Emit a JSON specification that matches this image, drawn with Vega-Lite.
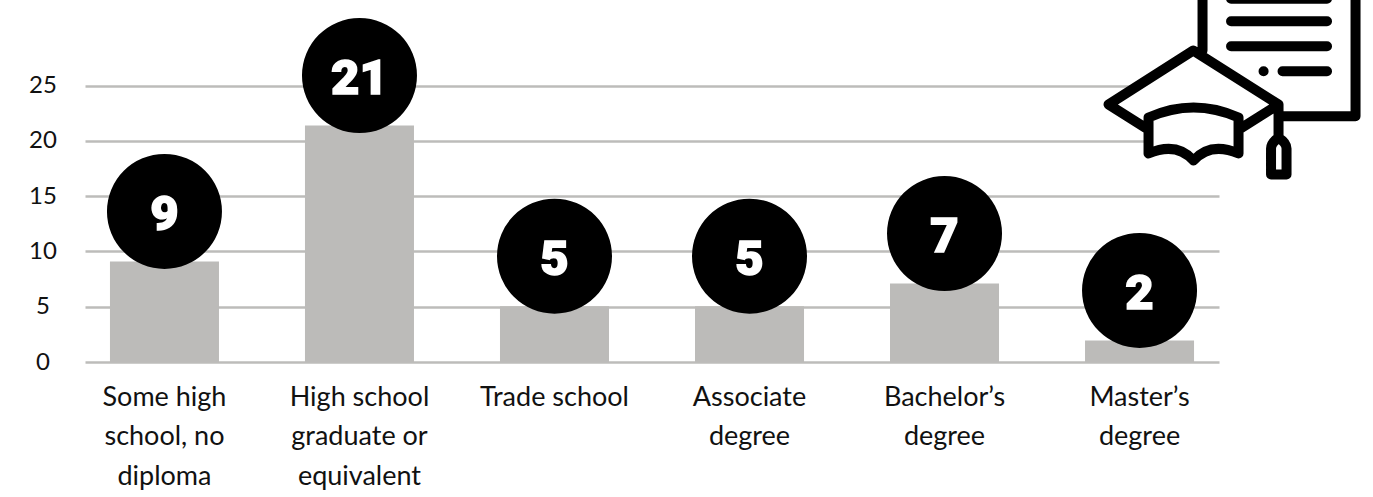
{
"$schema":"https://vega.github.io/schema/vega-lite/v6.json",
"autosize":{"type":"none"},
"padding":{"left":85,"top":0,"right":154,"bottom":135},
"width":1134,"height":362,
"background":"white",
"config":{"view":{"stroke":null}},
"datasets":{
"bars":[
{"category":"Some high|school, no|diploma","value":9.1,"label":"9"},
{"category":"High school|graduate or|equivalent","value":21.4,"label":"21"},
{"category":"Trade school","value":5.05,"label":"5"},
{"category":"Associate|degree","value":5.05,"label":"5"},
{"category":"Bachelor’s|degree","value":7.1,"label":"7"},
{"category":"Master’s|degree","value":1.95,"label":"2"}],
"icon":[{"category":"Master’s|degree","value":25}]
},
"encoding":{
"x":{"field":"category","type":"nominal","sort":null,"title":null,
"scale":{"paddingInner":0.441,"paddingOuter":0.128},
"axis":{"labelExpr":"split(datum.value,'|')","labelAngle":0,"labelAlign":"center","labelBaseline":"top","labelFont":"Lato","labelFontSize":27,"labelColor":"#111111","labelLineHeight":39.5,"labelPadding":22,"ticks":false,"domain":false,"grid":false,"labelLimit":0,"labelOverlap":false}},
"y":{"field":"value","type":"quantitative","title":null,
"scale":{"domain":[0,32.76],"nice":false},
"axis":{"values":[0,5,10,15,20,25],"grid":true,"gridColor":"#bdbcba","gridWidth":2.5,"domain":false,"ticks":false,"labelFont":"Lato","labelFontSize":24,"labelColor":"#111111","labelAlign":"center","labelBaseline":"middle","labelPadding":42.5}}
},
"layer":[
{"data":{"name":"bars"},"mark":{"type":"bar","color":"#bcbbb9","clip":false}},
{"data":{"name":"bars"},"mark":{"type":"point","shape":"circle","filled":true,"color":"#000000","opacity":1,"size":13225,"yOffset":-50}},
{"data":{"name":"bars"},"mark":{"type":"text","color":"#ffffff","stroke":"#ffffff","strokeWidth":1.5,"font":"Roboto","fontWeight":900,"fontSize":49,"baseline":"middle","yOffset":-46.5},"encoding":{"text":{"field":"label"}}},
{"data":{"name":"icon"},"mark":{"type":"point","filled":true,"fill":"#ffffff","fillOpacity":1,"opacity":1,"stroke":"#000000","strokeWidth":10,"strokeCap":"round","strokeJoin":"round","size":4,"clip":false,
"shape":"M63 -35.25 L63 -100 L216 -100 L216 30.5 L141 30.5 M91.5 -87 L187.5 -87 M91.5 -64.5 L187.5 -64.5 M91.5 -39.5 L187.5 -39.5 M124 -14.5 L124.1 -14.5 M143 -14.5 L187.5 -14.5 M9 44 L-31 18.75 L53.7 -35.25 L139 18.75 L99 44 M9 31.75 Q54 11.75 99 31.75 L99 67.75 Q71 55.75 54 74.75 Q37 55.75 9 67.75 Z M139 18.75 L139 52 M131.5 62.75 Q131.5 57 139 52 Q147 57 147 62.75 L147 88.75 L131.5 88.75 Z"}}
]
}
